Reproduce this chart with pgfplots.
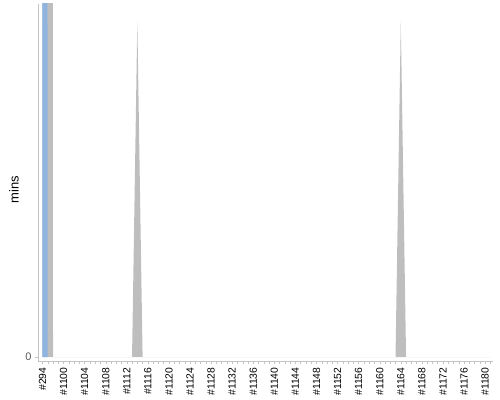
\documentclass[border=0pt]{standalone}
\usepackage{fontspec}
\setmainfont{Liberation Sans}
\usepackage{pgfplots}
\pgfplotsset{compat=1.18}
\definecolor{areagray}{RGB}{190,190,190}
\definecolor{areablue}{RGB}{143,180,224}
\definecolor{axisgray}{RGB}{196,196,196}

\begin{document}
\begin{tikzpicture}
\useasboundingbox (0,0) rectangle (500bp,400bp);
\begin{axis}[
  at={(38bp,39bp)}, anchor=south west,
  scale only axis, width=455bp, height=357bp,
  xmin=-0.85, xmax=85.5, ymin=-1.13, ymax=100,
  axis x line*=bottom, axis y line*=left,
  axis line style={-, draw=axisgray},
  tick align=outside,
  major tick length=3bp, minor tick length=3bp,
  every tick/.style={axisgray},
  xtick={0,4,...,84},
  minor xtick={0,...,85},
  xticklabels={\#294,\#1100,\#1104,\#1108,\#1112,\#1116,\#1120,\#1124,\#1128,\#1132,\#1136,\#1140,\#1144,\#1148,\#1152,\#1156,\#1160,\#1164,\#1168,\#1172,\#1176,\#1180},
  xticklabel style={rotate=90, anchor=east, font=\fontsize{10.4}{12}\selectfont},
  ytick={0},
  yticklabel style={font=\fontsize{11}{13}\selectfont, text=black!65},
  /pgf/number format/assume math mode=true,
  ylabel={mins},
  ylabel style={at={(axis description cs:-0.053,0.48)}, anchor=center, font=\fontsize{13}{15}\selectfont},
]
% off-scale values at the first builds, clipped by the axis
\addplot[draw=none, fill=areagray] coordinates {
  (0,0) (0,2000) (1,2000) (2,0) (17,0) (18,95) (19,0) (67,0) (68,95) (69,0) (85,0)
} -- cycle;
\addplot[draw=none, fill=areablue] coordinates {
  (0,0) (0,2000) (1,0)
} -- cycle;
\end{axis}
\end{tikzpicture}
\end{document}
